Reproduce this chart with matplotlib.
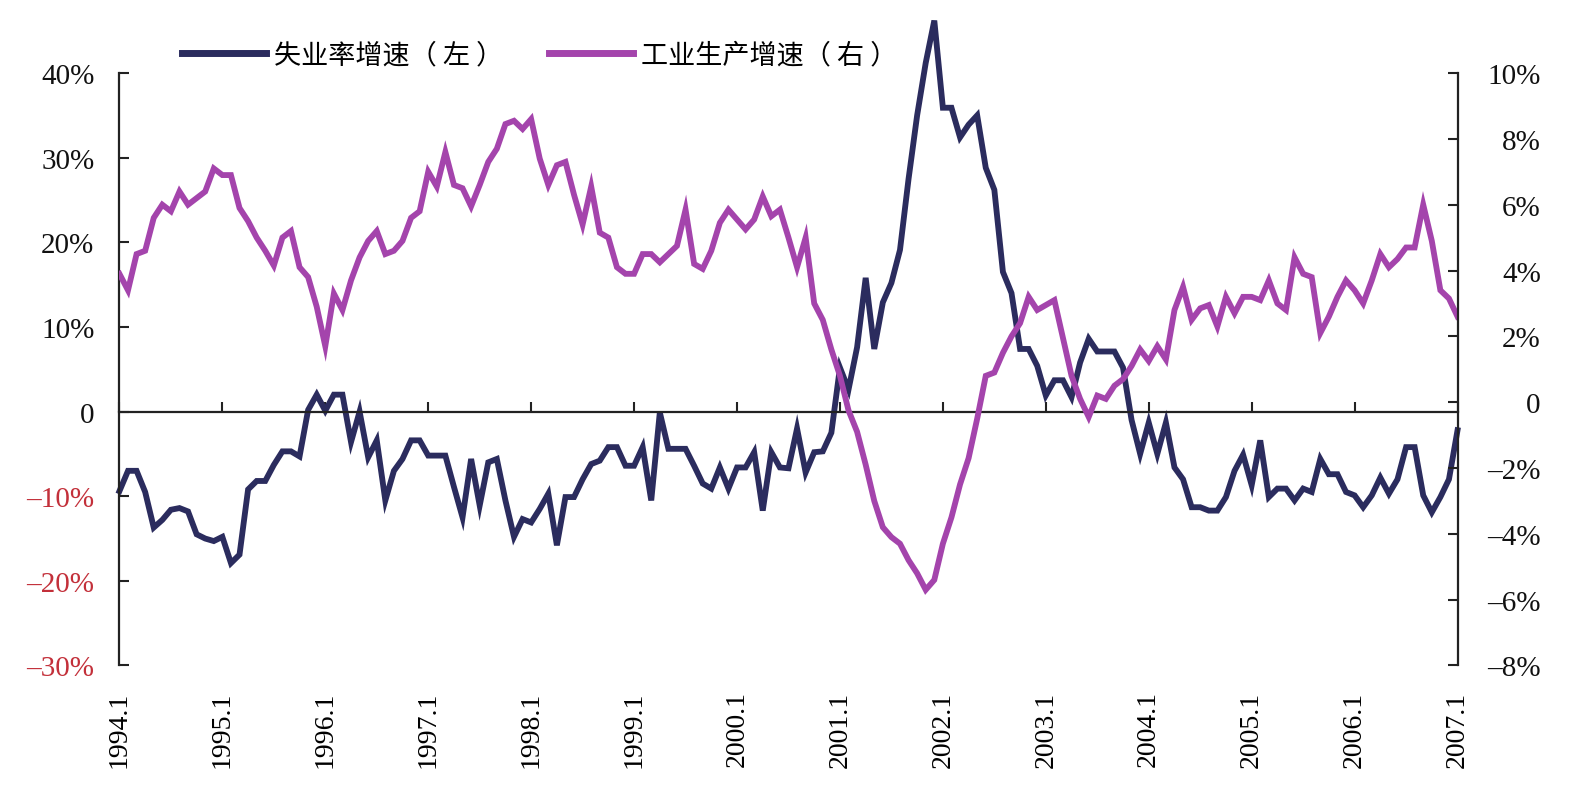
import numpy as np
import matplotlib.pyplot as plt

plt.rcParams['font.family'] = ['Liberation Serif', 'Noto Sans CJK SC', 'DejaVu Sans']

# monthly data, 1994.1 - 2007.1
start_year = 1994
end_year = 2007

# 失业率增速 (left axis, %)
unemployment_growth = [
    -9.4, -7.0, -7.0, -9.5, -13.7, -12.8, -11.6, -11.4, -11.8, -14.5, -15.0, -15.3,
    -14.8, -17.9, -16.9, -9.2, -8.2, -8.2, -6.3, -4.7, -4.7, -5.3, 0.2, 2.0,
    0.1, 2.0, 2.0, -3.6, 0.0, -5.4, -3.4, -10.5, -7.0, -5.6, -3.4, -3.4,
    -5.2, -5.2, -5.2, -8.9, -12.5, -5.6, -11.1, -6.0, -5.6, -10.5, -14.8, -12.7,
    -13.1, -11.5, -9.7, -15.8, -10.1, -10.1, -8.0, -6.2, -5.8, -4.2, -4.2, -6.4,
    -6.4, -4.2, -10.5, -0.1, -4.4, -4.4, -4.4, -6.4, -8.5, -9.1, -6.6, -9.1,
    -6.6, -6.6, -4.8, -11.7, -4.8, -6.6, -6.7, -2.0, -7.2, -4.8, -4.7, -2.5,
    5.2, 2.6, 7.6, 15.8, 7.4, 12.9, 15.2, 19.1, 27.5, 35.0, 41.2, 46.2,
    35.9, 35.9, 32.4, 33.9, 35.0, 28.8, 26.2, 16.5, 14.0, 7.4, 7.4, 5.4,
    1.9, 3.7, 3.7, 1.7, 5.8, 8.6, 7.1, 7.1, 7.1, 5.2, -1.0, -5.0,
    -1.3, -5.0, -1.3, -6.6, -8.0, -11.3, -11.3, -11.7, -11.7, -10.1, -7.0, -5.1,
    -8.7, -3.4, -10.1, -9.1, -9.1, -10.5, -9.1, -9.5, -5.6, -7.4, -7.4, -9.5,
    -9.9, -11.3, -9.9, -7.8, -9.7, -8.0, -4.2, -4.2, -9.9, -11.9, -10.1, -8.0,
    -2.2,
]

# 工业生产增速 (right axis, %)
industry_growth = [
    3.9, 3.4, 4.5, 4.6, 5.6, 6.0, 5.8, 6.4, 6.0, 6.2, 6.4, 7.1,
    6.9, 6.9, 5.9, 5.5, 5.0, 4.6, 4.15, 5.0, 5.2, 4.1, 3.8, 2.9,
    1.7, 3.3, 2.8, 3.7, 4.4, 4.9, 5.2, 4.5, 4.6, 4.9, 5.6, 5.8,
    7.0, 6.55, 7.6, 6.6, 6.5, 5.95, 6.6, 7.3, 7.7, 8.45, 8.55, 8.3,
    8.6, 7.4, 6.6, 7.2, 7.3, 6.3, 5.4, 6.55, 5.15, 5.0, 4.1, 3.9,
    3.9, 4.5, 4.5, 4.25, 4.5, 4.75, 5.85, 4.2, 4.05, 4.6, 5.45, 5.85,
    5.55, 5.25, 5.55, 6.25, 5.65, 5.85, 5.0, 4.1, 5.0, 3.0, 2.5, 1.6,
    0.8, -0.25, -0.9, -1.9, -3.0, -3.8, -4.1, -4.3, -4.8, -5.2, -5.7, -5.4,
    -4.3, -3.5, -2.5, -1.7, -0.5, 0.8, 0.9, 1.5, 2.0, 2.4, 3.2, 2.8,
    2.95, 3.1, 1.95, 0.8, 0.1, -0.45, 0.2, 0.1, 0.5, 0.7, 1.1, 1.6,
    1.25, 1.7, 1.3, 2.8, 3.5, 2.5, 2.85, 2.95, 2.3, 3.2, 2.7, 3.2,
    3.2, 3.1, 3.7, 3.0, 2.8, 4.4, 3.9, 3.8, 2.1, 2.6, 3.2, 3.7,
    3.4, 3.0, 3.7, 4.5, 4.1, 4.35, 4.7, 4.7, 6.0, 4.9, 3.4, 3.15,
    2.6,
]

series_names = ['失业率增速（ 左 ）', '工业生产增速（ 右 ）']
year_labels = [f"{y}.1" for y in range(start_year, end_year + 1)]

left_ticks = [-30, -20, -10, 0, 10, 20, 30, 40]
left_labels = ['–30%', '–20%', '–10%', '0', '10%', '20%', '30%', '40%']
right_ticks = [-8, -6, -4, -2, 0, 2, 4, 6, 8, 10]
right_labels = ['–8%', '–6%', '–4%', '–2%', '0', '2%', '4%', '6%', '8%', '10%']

navy = '#2B2C5E'
purple = '#A444AC'
red = '#C3303A'


def draw_chart(filename="out.png"):
    fig = plt.figure(figsize=(15.86, 8.03), dpi=100)
    ax = fig.add_axes([0.0753, 0.170, 0.8437, 0.7378])
    ax2 = ax.twinx()

    months = np.arange(len(unemployment_growth))
    # the 2001 peak runs above the top of the left scale, so no clipping
    line1, = ax.plot(months, unemployment_growth, color=navy, lw=4.2,
                     clip_on=False, solid_joinstyle='miter')
    line2, = ax2.plot(months, industry_growth, color=purple, lw=4.2,
                      solid_joinstyle='miter')

    ax.set_xlim(0, len(months) - 1)
    ax.set_ylim(-30, 40)
    ax2.set_ylim(-8, 10)

    # spines: left/right axes, x axis line sits on the zero of the left scale
    for s in ['top', 'right']:
        ax.spines[s].set_visible(False)
    for s in ['top', 'bottom', 'left']:
        ax2.spines[s].set_visible(False)
    ax.spines['bottom'].set_position(('data', 0))
    for sp in [ax.spines['left'], ax.spines['bottom'], ax2.spines['right']]:
        sp.set_linewidth(1.6)
        sp.set_color('#222222')

    year_ticks = months[::12]
    ax.set_xticks(year_ticks)
    ax.tick_params(axis='x', direction='in', length=7, width=1.5,
                   color='#222222', labelbottom=False)

    sec = ax.secondary_xaxis('bottom')
    sec.set_xticks(year_ticks, year_labels)
    sec.tick_params(length=0, pad=18, labelsize=20, labelrotation=90)
    sec.spines['bottom'].set_visible(False)

    ax.set_yticks(left_ticks, left_labels)
    ax.tick_params(axis='y', direction='in', length=7, width=1.5,
                   color='#222222', labelsize=21, pad=18)
    for lab, v in zip(ax.get_yticklabels(), left_ticks):
        lab.set_color(red if v < 0 else '#111111')

    ax2.set_yticks(right_ticks, right_labels)
    ax2.tick_params(axis='y', direction='in', length=7, width=1.5,
                    color='#222222', labelsize=21, pad=60)
    for lab in ax2.get_yticklabels():
        lab.set_horizontalalignment('right')
        lab.set_color('#111111')

    leg = fig.legend([line1, line2], series_names, loc='center left',
                     bbox_to_anchor=(182 / 1586, 0.930), ncol=2, frameon=False,
                     borderaxespad=0, borderpad=0, handlelength=3.1,
                     handletextpad=0.3, columnspacing=1.7,
                     prop={'family': ['Noto Sans CJK SC'], 'size': 19.5})
    for h in leg.get_lines():
        h.set_linewidth(5)

    fig.savefig(filename, dpi=100)


if __name__ == "__main__":
    draw_chart("out.png")
